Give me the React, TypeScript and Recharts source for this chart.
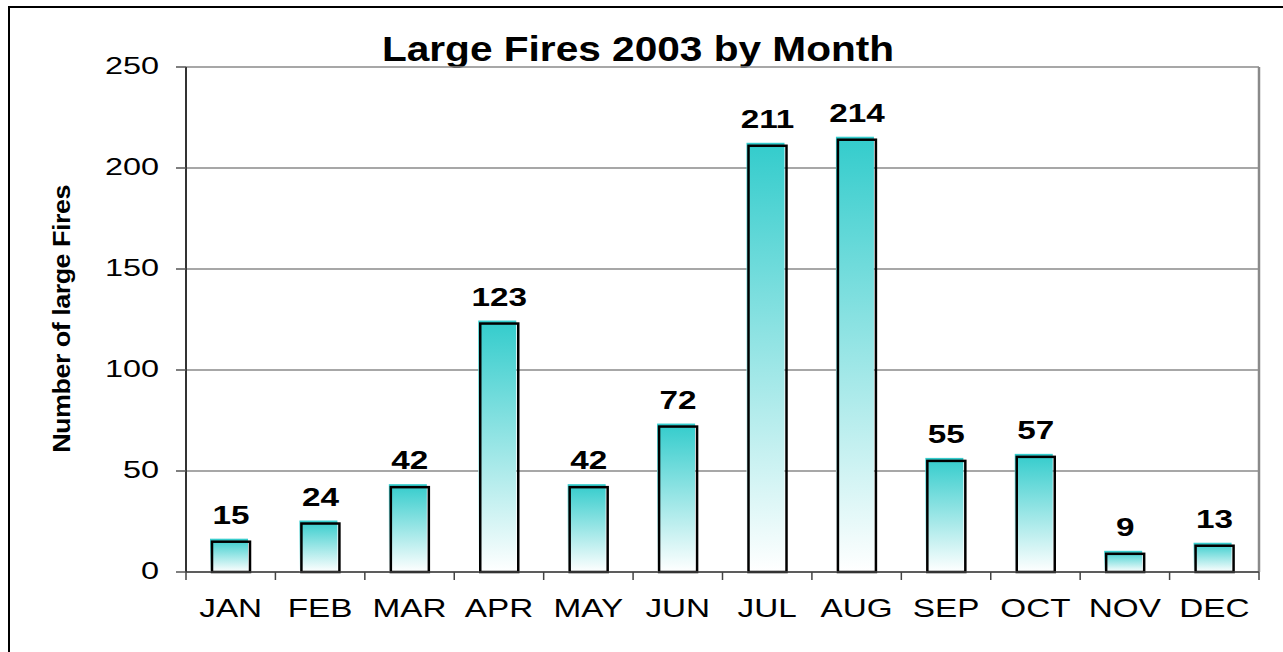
import { Bar, BarChart, CartesianGrid, LabelList, XAxis, YAxis } from "recharts";

const months = ["JAN", "FEB", "MAR", "APR", "MAY", "JUN", "JUL", "AUG", "SEP", "OCT", "NOV", "DEC"];
const fires = [15, 24, 42, 123, 42, 72, 211, 214, 55, 57, 9, 13];
const yTicks = [0, 50, 100, 150, 200, 250];
const chartTitle = "Large Fires 2003 by Month";
const yTitle = "Number of large Fires";

const data = months.map((month, i) => ({ month, fires: fires[i] }));

const W = 1283;
const H = 652;
const FONT = '"Liberation Sans", Arial, sans-serif';

function MonthTick(props: any) {
  const { x, y, payload, index, width, visibleTicksCount } = props;
  const count = visibleTicksCount || months.length;
  const half = typeof width === "number" && width > 0 ? width / count / 2 : payload.offset ?? 0;
  const axisY = y - 16;
  return (
    <g>
      <line x1={x - half} x2={x - half} y1={axisY} y2={axisY + 8} stroke="#444" strokeWidth={1.5} />
      {index === count - 1 && (
        <line x1={x + half} x2={x + half} y1={axisY} y2={axisY + 8} stroke="#444" strokeWidth={1.5} />
      )}
      <g transform={`translate(${x},${axisY + 45}) scale(1.28,1)`}>
        <text textAnchor="middle" fontSize={26} fill="#000" fontFamily={FONT}>
          {payload.value}
        </text>
      </g>
    </g>
  );
}

function CountTick({ x, y, payload }: any) {
  return (
    <g transform={`translate(${x},${y}) scale(1.35,1)`}>
      <text textAnchor="end" dy={7} fontSize={24} fill="#000" fontFamily={FONT}>
        {payload.value}
      </text>
    </g>
  );
}

function ValueLabel({ x, y, width, value }: any) {
  return (
    <g transform={`translate(${x + width / 2},${y - 18}) scale(1.28,1)`}>
      <text textAnchor="middle" fontSize={26} fontWeight="bold" fill="#000" fontFamily={FONT}>
        {value}
      </text>
    </g>
  );
}

// excel style bar: gradient fill nudged up-left, black outline on top
function FireBar({ x, y, width, height }: any) {
  if (!height) return null;
  return (
    <g>
      <rect x={x - 2} y={y - 3} width={width} height={height + 3} fill="url(#fireGradient)" />
      <rect x={x} y={y} width={width} height={height} fill="none" stroke="#000" strokeWidth={2.5} />
    </g>
  );
}

export default function App() {
  return (
    <div style={{ position: "absolute", left: 0, top: 0, width: W, height: H, overflow: "hidden", background: "#fff", fontFamily: FONT }}>
      <div style={{ position: "absolute", left: 8, top: 6, width: W + 20, height: H + 20, border: "2px solid #000" }} />
      <div
        style={{
          position: "absolute",
          left: 638,
          top: 31,
          fontSize: 35,
          lineHeight: 1,
          fontWeight: "bold",
          whiteSpace: "nowrap",
          transform: "translateX(-50%) scaleX(1.16)",
          color: "#000",
        }}
      >
        {chartTitle}
      </div>
      <div
        style={{
          position: "absolute",
          left: 62,
          top: 319,
          fontSize: 25,
          lineHeight: 1,
          fontWeight: "bold",
          whiteSpace: "nowrap",
          letterSpacing: -0.5,
          transform: "translate(-50%, -50%) rotate(-90deg) scale(1.08, 0.92)",
          color: "#000",
        }}
      >
        {yTitle}
      </div>
      <div style={{ position: "absolute", left: 0, top: 0 }}>
        <BarChart width={W} height={H} data={data} margin={{ top: 67, right: 24, bottom: 0, left: 0 }} barSize={38}>
          <defs>
            <linearGradient id="fireGradient" x1="0" y1="0" x2="0" y2="1">
              <stop offset="0%" stopColor="#33cccc" />
              <stop offset="100%" stopColor="#ffffff" />
            </linearGradient>
          </defs>
          <CartesianGrid vertical={false} stroke="#8a8a8a" strokeWidth={1.5} />
          <CartesianGrid
            horizontal={false}
            stroke="#8a8a8a"
            strokeWidth={2.5}
            verticalCoordinatesGenerator={({ offset }: any) => [offset.left + offset.width]}
          />
          <XAxis
            dataKey="month"
            height={80}
            tickLine={false}
            tickSize={8}
            tickMargin={8}
            axisLine={{ stroke: "#444", strokeWidth: 1.5 }}
            tick={<MonthTick />}
            interval={0}
          />
          <YAxis
            width={186}
            domain={[0, 250]}
            ticks={yTicks}
            tickSize={10}
            tickMargin={17}
            axisLine={{ stroke: "#333", strokeWidth: 2 }}
            tickLine={{ stroke: "#555", strokeWidth: 1.5 }}
            tick={<CountTick />}
          />
          <Bar dataKey="fires" shape={<FireBar />} isAnimationActive={false}>
            <LabelList dataKey="fires" content={<ValueLabel />} />
          </Bar>
        </BarChart>
      </div>
    </div>
  );
}
